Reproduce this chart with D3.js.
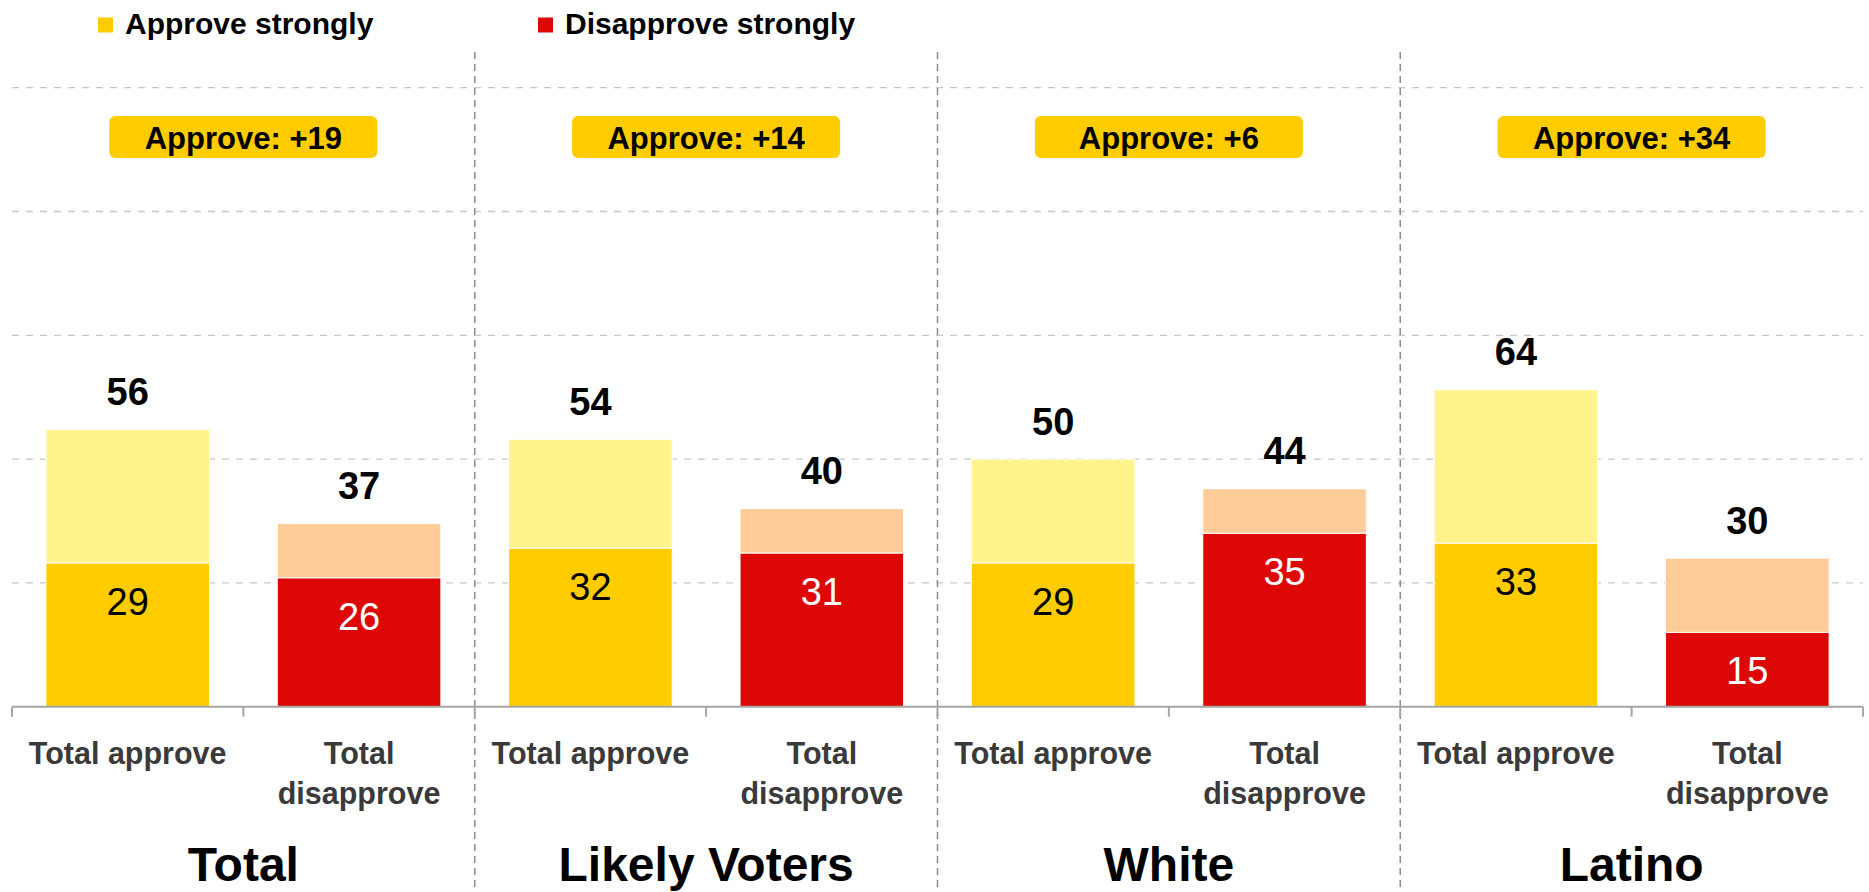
<!DOCTYPE html>
<html>
<head>
<meta charset="utf-8">
<script src="https://cdn.jsdelivr.net/npm/d3@7"></script>
<style>
  html, body { margin: 0; padding: 0; background: #fff; }
  svg { display: block; font-family: "Liberation Sans", Arial, sans-serif; }
</style>
</head>
<body>
<svg id="chart" width="1869" height="892"></svg>
<script>
// ---- data ----
const groups = ["Total", "Likely Voters", "White", "Latino"];
const measures = ["Total approve", "Total disapprove"];
const measureLines = [["Total approve"], ["Total", "disapprove"]];
const totalApprove = [56, 54, 50, 64];
const strongApprove = [29, 32, 29, 33];
const totalDisapprove = [37, 40, 44, 30];
const strongDisapprove = [26, 31, 35, 15];
const netLabels = ["Approve: +19", "Approve: +14", "Approve: +6", "Approve: +34"];
const gridTicks = [25, 50, 75, 100, 125];
const legendItems = ["Approve strongly", "Disapprove strongly"];

// ---- styles ----
const C = {
  approveStrong: "#FFCC00", approveLight: "#FFF38C",
  disStrong: "#DD0806", disLight: "#FFCC99",
  grid: "#C8C8C8", sep: "#8C8C8C", axis: "#A6A6A6"
};

const svg = d3.select("#chart");
const left = 12, right = 1863, baseY = 706.7, topY = 87.7;

const y = d3.scaleLinear().domain([0, 125]).range([baseY, topY]);
const xGroup = d3.scaleBand().domain(groups).range([left, right]).padding(0);
const xMeasure = d3.scaleBand().domain(measures).range([0, xGroup.bandwidth()]).padding(0);
const barFrac = 0.707;
const barW = xMeasure.bandwidth() * barFrac;

// gridlines
svg.append("g").selectAll("line").data(gridTicks).join("line")
  .attr("x1", left).attr("x2", right)
  .attr("y1", d => y(d)).attr("y2", d => y(d))
  .attr("stroke", C.grid).attr("stroke-width", 1.3).attr("stroke-dasharray", "7,7");

// group separators
svg.append("g").selectAll("line").data(groups.slice(1)).join("line")
  .attr("x1", d => xGroup(d)).attr("x2", d => xGroup(d))
  .attr("y1", 52).attr("y2", 892)
  .attr("stroke", C.sep).attr("stroke-width", 1.5).attr("stroke-dasharray", "7,5");

// bar data
const rows = [];
groups.forEach((g, i) => {
  rows.push({ g, m: measures[0], total: totalApprove[i], strong: strongApprove[i],
    cs: C.approveStrong, cl: C.approveLight, tc: "#000" });
  rows.push({ g, m: measures[1], total: totalDisapprove[i], strong: strongDisapprove[i],
    cs: C.disStrong, cl: C.disLight, tc: "#fff" });
});
const cx = r => xGroup(r.g) + xMeasure(r.m) + xMeasure.bandwidth() / 2;

const bars = svg.append("g").selectAll("g").data(rows).join("g");
bars.append("rect")
  .attr("x", r => cx(r) - barW / 2).attr("width", barW)
  .attr("y", r => y(r.total)).attr("height", r => y(r.strong) - y(r.total))
  .attr("fill", r => r.cl).attr("stroke", "#fff").attr("stroke-width", 1);
bars.append("rect")
  .attr("x", r => cx(r) - barW / 2).attr("width", barW)
  .attr("y", r => y(r.strong)).attr("height", r => y(0) - y(r.strong))
  .attr("fill", r => r.cs).attr("stroke", "#fff").attr("stroke-width", 1);
bars.append("text")
  .attr("x", cx).attr("y", r => y(r.total) - 24.6)
  .attr("text-anchor", "middle").attr("font-size", 38).attr("font-weight", "bold")
  .attr("fill", "#000").text(r => r.total);
bars.append("text")
  .attr("x", cx).attr("y", r => y(r.strong) + 52)
  .attr("text-anchor", "middle").attr("font-size", 38)
  .attr("fill", r => r.tc).text(r => r.strong);

// x axis
const axisG = svg.append("g");
axisG.append("line").attr("x1", left).attr("x2", right)
  .attr("y1", baseY).attr("y2", baseY).attr("stroke", C.axis).attr("stroke-width", 2);
const tickXs = [];
groups.forEach(g => measures.forEach(m => tickXs.push(xGroup(g) + xMeasure(m))));
tickXs.push(right);
axisG.selectAll("line.tick").data(tickXs).join("line").attr("class", "tick")
  .attr("x1", d => d).attr("x2", d => d).attr("y1", baseY).attr("y2", baseY + 10)
  .attr("stroke", C.axis).attr("stroke-width", 2);

// category labels
groups.forEach(g => {
  measures.forEach((m, mi) => {
    const t = svg.append("text")
      .attr("x", xGroup(g) + xMeasure(m) + xMeasure.bandwidth() / 2)
      .attr("y", 764).attr("text-anchor", "middle")
      .attr("font-size", 30.5).attr("font-weight", "bold").attr("fill", "#3A3A3A");
    measureLines[mi].forEach((ln, li) => {
      t.append("tspan").attr("x", xGroup(g) + xMeasure(m) + xMeasure.bandwidth() / 2)
        .attr("y", 764 + li * 40).text(ln);
    });
  });
});

// group labels
svg.append("g").selectAll("text").data(groups).join("text")
  .attr("x", g => xGroup(g) + xGroup.bandwidth() / 2).attr("y", 881)
  .attr("text-anchor", "middle").attr("font-size", 48).attr("font-weight", "bold")
  .attr("fill", "#000").text(g => g);

// net badges
const badgeW = 268, badgeH = 42, badgeY = 116;
const badges = svg.append("g").selectAll("g").data(groups).join("g");
badges.append("rect")
  .attr("x", g => xGroup(g) + xGroup.bandwidth() / 2 - badgeW / 2)
  .attr("y", badgeY).attr("width", badgeW).attr("height", badgeH)
  .attr("rx", 6).attr("ry", 6).attr("fill", C.approveStrong);
badges.append("text")
  .attr("x", g => xGroup(g) + xGroup.bandwidth() / 2).attr("y", 148.5)
  .attr("text-anchor", "middle").attr("font-size", 31).attr("font-weight", "bold")
  .attr("fill", "#000").text((g, i) => netLabels[i]);

// legend
const legendX = [98, 538];
const legendColors = [C.approveStrong, C.disStrong];
const lg = svg.append("g").selectAll("g").data(legendItems).join("g");
lg.append("rect").attr("x", (d, i) => legendX[i]).attr("y", 17.5)
  .attr("width", 15).attr("height", 15).attr("fill", (d, i) => legendColors[i]);
lg.append("text").attr("x", (d, i) => legendX[i] + 27).attr("y", 34.3)
  .attr("font-size", 30).attr("font-weight", "bold").attr("fill", "#000").text(d => d);
</script>
</body>
</html>
